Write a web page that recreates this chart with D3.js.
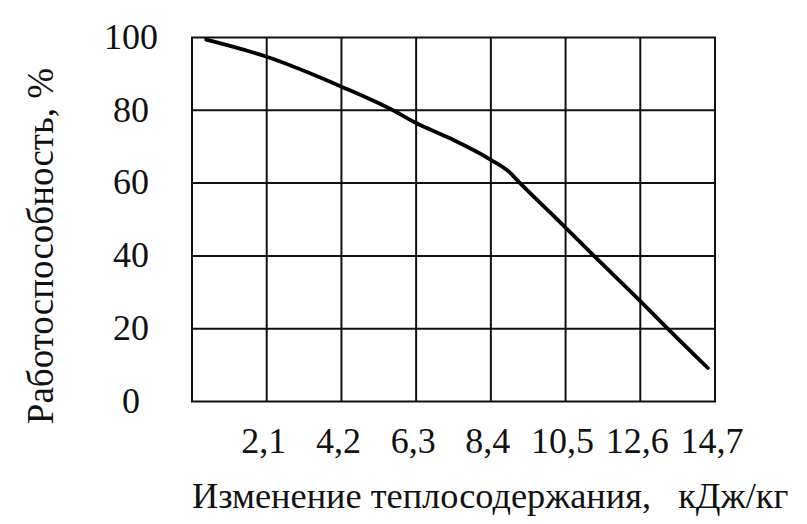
<!DOCTYPE html>
<html><head><meta charset="utf-8">
<script src="https://cdn.jsdelivr.net/npm/d3@7"></script>
<style>
html,body{margin:0;padding:0;background:#fff;}
svg{display:block;}
text{font-family:"Liberation Serif","Times New Roman",serif;fill:#111;}
</style></head>
<body>
<svg id="chart" width="807" height="524"></svg>
<script>
// Data
const xTickValues = [2.1, 4.2, 6.3, 8.4, 10.5, 12.6, 14.7];
const xTickLabels = ["2,1", "4,2", "6,3", "8,4", "10,5", "12,6", "14,7"];
const yTickValues = [0, 20, 40, 60, 80, 100];
const yTickLabels = ["0", "20", "40", "60", "80", "100"];
const heatChange = [0.4, 2.1, 4.2, 5.65, 6.3, 7.25, 8.4, 8.9, 9.2, 10.3, 11.3, 12.6, 13.25, 14.5];
const workCapacity = [99.4, 94.7, 86.5, 80, 76.5, 72.3, 66.4, 63.2, 60.2, 49.7, 40, 27.6, 21.2, 9.2];
const xTitle = "Изменение теплосодержания,   кДж/кг";
const yTitle = "Работоспособность, %";

const svg = d3.select("#chart");
const x = d3.scaleLinear().domain([0, 14.7]).range([192, 715]);
const y = d3.scaleLinear().domain([0, 100]).range([401.5, 37.5]);

// grid
const g = svg.append("g");
g.selectAll("line.v").data([0].concat(xTickValues)).enter().append("line")
  .attr("x1", d => x(d)).attr("x2", d => x(d))
  .attr("y1", y(0)).attr("y2", y(100))
  .attr("stroke", "#111").attr("stroke-width", 2);
g.selectAll("line.h").data(yTickValues).enter().append("line")
  .attr("x1", x(0) - 1).attr("x2", x(14.7) + 1)
  .attr("y1", d => y(d)).attr("y2", d => y(d))
  .attr("stroke", "#111").attr("stroke-width", 2);

// curve
const pts = heatChange.map((v, i) => [v, workCapacity[i]]);
svg.append("path").datum(pts)
  .attr("fill", "none").attr("stroke", "#000").attr("stroke-width", 3.8)
  .attr("stroke-linecap", "round").attr("stroke-linejoin", "round")
  .attr("d", d3.line().x(d => x(d[0])).y(d => y(d[1])).curve(d3.curveMonotoneX));

// y tick labels
svg.selectAll("text.yt").data(yTickValues).enter().append("text")
  .attr("x", 131).attr("y", d => y(d) + 3)
  .attr("text-anchor", "middle").attr("dominant-baseline", "middle")
  .attr("font-size", 36)
  .text((d, i) => yTickLabels[i]);

// x tick labels
svg.selectAll("text.xt").data(xTickValues).enter().append("text")
  .attr("x", d => x(d) - 3).attr("y", 453)
  .attr("text-anchor", "middle")
  .attr("font-size", 36)
  .text((d, i) => xTickLabels[i]);

// titles
svg.append("text").attr("x", 192).attr("y", 508)
  .attr("font-size", 36.3).style("white-space", "pre")
  .text(xTitle);
svg.append("text")
  .attr("transform", "translate(53,246) rotate(-90)")
  .attr("text-anchor", "middle").attr("font-size", 37)
  .text(yTitle);
</script>
</body></html>
